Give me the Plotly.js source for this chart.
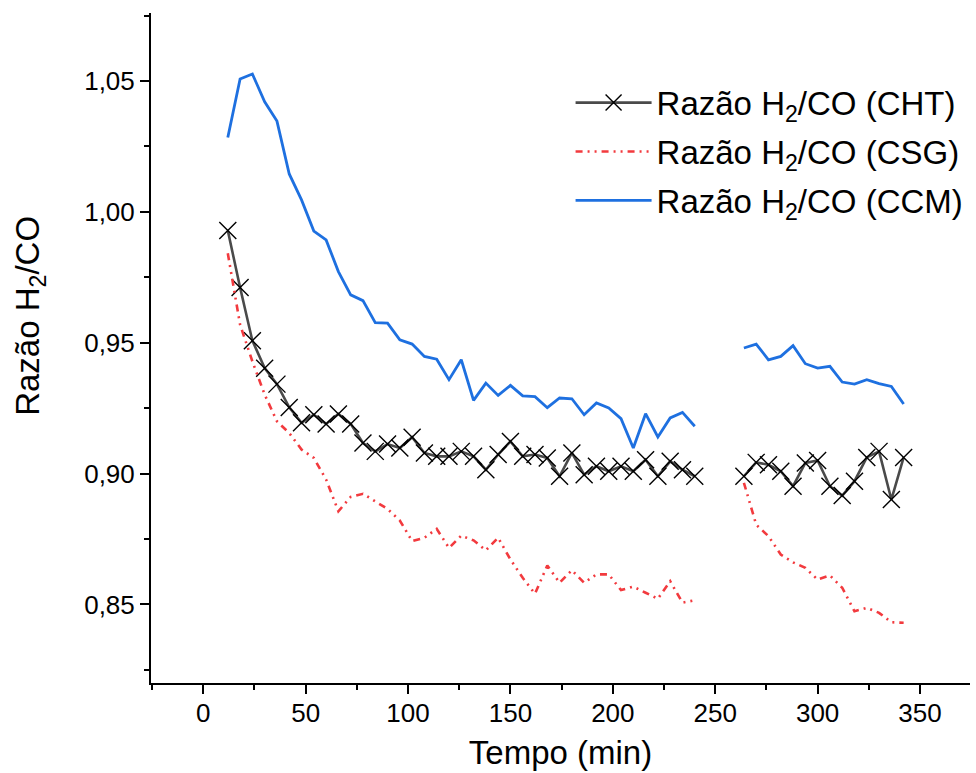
<!DOCTYPE html>
<html>
<head>
<meta charset="utf-8">
<script src="https://cdn.plot.ly/plotly-3.0.1.min.js"></script>
<style>
  html, body { margin: 0; padding: 0; background: #ffffff; }
  #chart { width: 976px; height: 773px; }
</style>
</head>
<body>
<div id="chart"></div>
<script>
// Time (min); the readings between 240 and 264 min are missing (null)
const timeMin = [12, 18, 24, 30, 36, 42, 48, 54, 60, 66, 72, 78, 84, 90, 96, 102, 108, 114, 120, 126,
  132, 138, 144, 150, 156, 162, 168, 174, 180, 186, 192, 198, 204, 210, 216, 222, 228, 234, 240,
  246, 252, 258,
  264, 270, 276, 282, 288, 294, 300, 306, 312, 318, 324, 330, 336, 342];

const ratioCHT = [0.9929, 0.9711, 0.9508, 0.9403, 0.9342, 0.9253, 0.9194, 0.9225, 0.9190, 0.9228,
  0.9190, 0.9117, 0.9085, 0.9113, 0.9098, 0.9139, 0.9079, 0.9066, 0.9066, 0.9085,
  0.9066, 0.9015, 0.9073, 0.9123, 0.9066, 0.9073, 0.9060, 0.8990, 0.9079, 0.8996,
  0.9028, 0.9009, 0.9028, 0.9009, 0.9053, 0.8990, 0.9047, 0.9015, 0.8990,
  null, null, null,
  0.8990, 0.9043, 0.9034, 0.9009, 0.8952, 0.9041, 0.9050, 0.8952, 0.8916, 0.8971,
  0.9062, 0.9085, 0.8901, 0.9062];

const ratioCSG = [0.9842, 0.9569, 0.9429, 0.9302, 0.9200, 0.9155, 0.9092, 0.9060, 0.8977, 0.8856,
  0.8911, 0.8923, 0.8894, 0.8865, 0.8821, 0.8742, 0.8755, 0.8789, 0.8716, 0.8763,
  0.8745, 0.8707, 0.8755, 0.8672, 0.8602, 0.8541, 0.8649, 0.8583, 0.8631, 0.8583,
  0.8615, 0.8615, 0.8555, 0.8568, 0.8545, 0.8522, 0.8589, 0.8507, 0.8516,
  null, null, null,
  0.8965, 0.8805, 0.8761, 0.8691, 0.8661, 0.8640, 0.8595, 0.8611, 0.8564, 0.8474,
  0.8487, 0.8468, 0.8432, 0.8430];

const ratioCCM = [1.0284, 1.0508, 1.0527, 1.0421, 1.0347, 1.0145, 1.0046, 0.9927, 0.9893, 0.9772,
  0.9683, 0.9661, 0.9577, 0.9575, 0.9511, 0.9495, 0.9448, 0.9437, 0.9359, 0.9435,
  0.9280, 0.9346, 0.9299, 0.9337, 0.9297, 0.9294, 0.9252, 0.9289, 0.9286, 0.9225,
  0.9270, 0.9251, 0.9210, 0.9098, 0.9229, 0.9140, 0.9213, 0.9234, 0.9181,
  null, null, null,
  0.9480, 0.9495, 0.9435, 0.9448, 0.9489, 0.9420, 0.9403, 0.9410, 0.9350, 0.9342,
  0.9359, 0.9344, 0.9333, 0.9266];

const seriesNames = ['Razão H<sub>2</sub>/CO (CHT)', 'Razão H<sub>2</sub>/CO (CSG)', 'Razão H<sub>2</sub>/CO (CCM)'];
const xTickVals = [0, 50, 100, 150, 200, 250, 300, 350];
const yTickVals = [0.85, 0.90, 0.95, 1.00, 1.05];
const xTitle = 'Tempo (min)';
const yTitle = 'Razão H<sub>2</sub>/CO';

const FONT = 'Arial, "Liberation Sans", sans-serif';

const traces = [
  {
    x: timeMin, y: ratioCHT, name: seriesNames[0], type: 'scatter', mode: 'lines+markers',
    connectgaps: false, legendgroup: 'a',
    line: { color: '#4a4a4a', width: 2.6 },
    marker: { symbol: 'x-thin', size: 17, color: '#000000', line: { color: '#000000', width: 1.4 } }
  },
  {
    x: timeMin, y: ratioCSG, name: seriesNames[1], type: 'scatter', mode: 'lines',
    connectgaps: false, legendgroup: 'b',
    line: { color: '#f23a3e', width: 2.6, dash: '7px,5px,2px,5px,2px,5px' }
  },
  {
    x: timeMin, y: ratioCCM, name: seriesNames[2], type: 'scatter', mode: 'lines',
    connectgaps: false, legendgroup: 'c',
    line: { color: '#1e70e0', width: 2.8 }
  }
];

const layout = {
  width: 976, height: 773,
  margin: { l: 151, r: 6, t: 13, b: 90, pad: 0 },
  paper_bgcolor: '#ffffff', plot_bgcolor: '#ffffff',
  separators: ', ',
  font: { family: FONT, color: '#000000', size: 26 },
  showlegend: true,
  legend: {
    x: 0.5123, y: 0.908, xanchor: 'left', yanchor: 'top',
    bgcolor: 'rgba(0,0,0,0)', borderwidth: 0,
    font: { family: FONT, size: 33, color: '#000000' },
    traceorder: 'grouped', tracegroupgap: 3, itemwidth: 76
  },
  xaxis: {
    range: [-25.5, 374.4],
    tickmode: 'array', tickvals: xTickVals, ticktext: xTickVals.map(String),
    ticks: 'outside', ticklen: 9, tickwidth: 2, tickcolor: '#000000',
    minor: { dtick: 25, tick0: 0, ticks: 'outside', ticklen: 5, tickwidth: 2, tickcolor: '#000000' },
    showline: true, linecolor: '#000000', linewidth: 2,
    showgrid: false, zeroline: false,
    ticklabelstandoff: -3,
    tickfont: { family: FONT, size: 26, color: '#000000' },
    title: { text: xTitle, font: { family: FONT, size: 33, color: '#000000' }, standoff: 14 },
    automargin: false
  },
  yaxis: {
    range: [0.82, 1.076],
    tickmode: 'array', tickvals: yTickVals, ticktext: yTickVals.map(v => v.toFixed(2).replace('.', ',')),
    ticks: 'outside', ticklen: 9, tickwidth: 2, tickcolor: '#000000',
    minor: { dtick: 0.025, tick0: 0.825, ticks: 'outside', ticklen: 5, tickwidth: 2, tickcolor: '#000000' },
    showline: true, linecolor: '#000000', linewidth: 2,
    showgrid: false, zeroline: false,
    tickfont: { family: FONT, size: 26, color: '#000000' },
    automargin: false
  },
  annotations: [
    {
      text: yTitle, xref: 'paper', yref: 'paper', x: 0, y: 0.548,
      xanchor: 'center', yanchor: 'middle', xshift: -121, textangle: -90,
      showarrow: false, font: { family: FONT, size: 33, color: '#000000' }
    }
  ]
};

Plotly.newPlot('chart', traces, layout, { staticPlot: true, displayModeBar: false });
</script>
</body>
</html>
